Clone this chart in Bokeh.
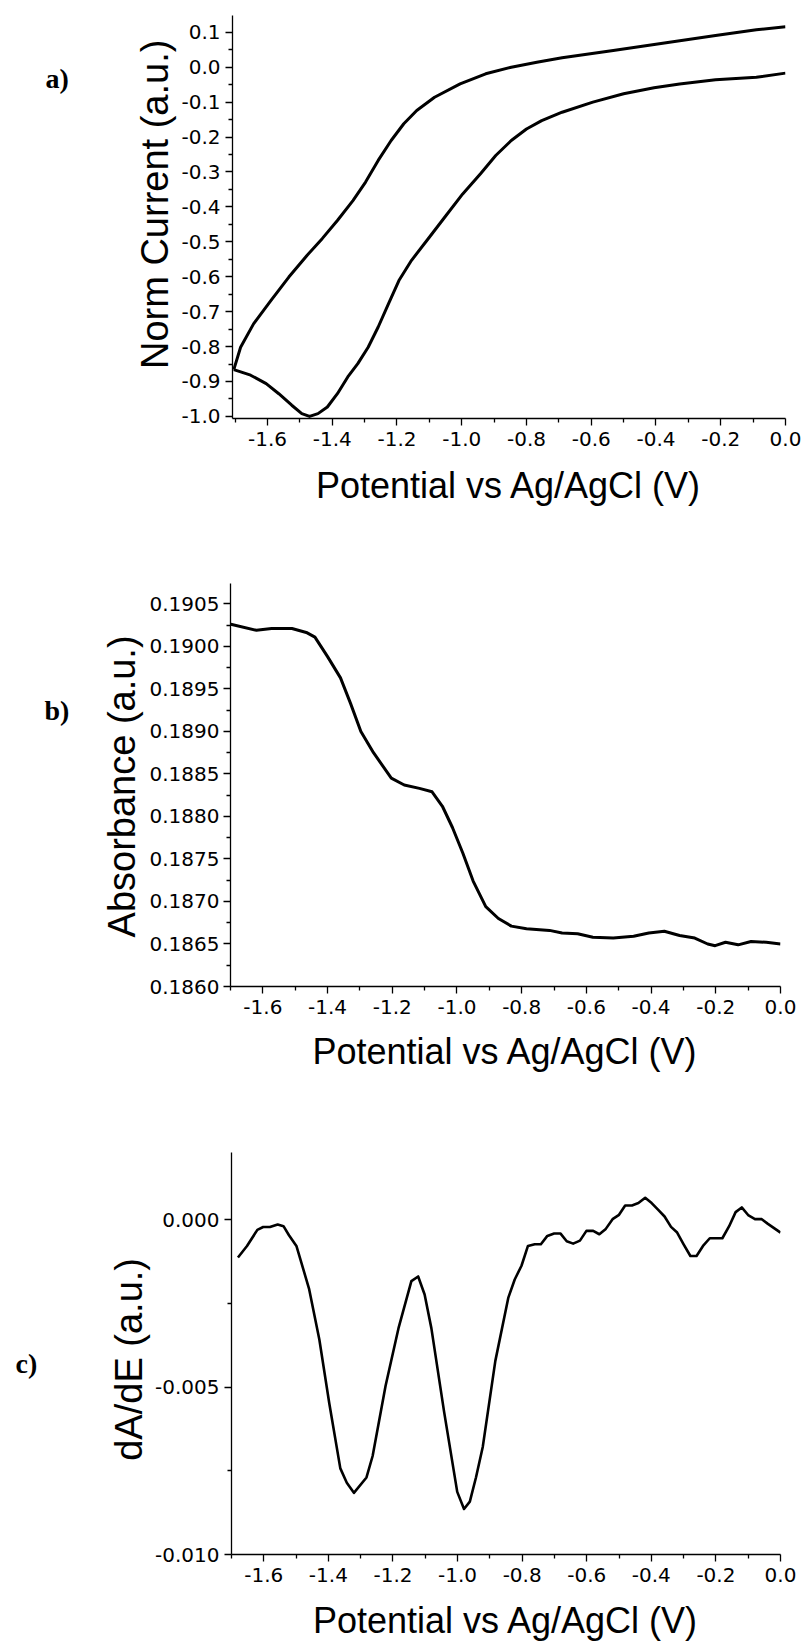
from math import pi
from bokeh.plotting import figure
from bokeh.layouts import column, row
from bokeh.models import FixedTicker, PrintfTickFormatter, Range1d
from bokeh.core.properties import value
from bokeh.embed import file_html
from bokeh.resources import INLINE

# ---------------- data ----------------
# a) cyclic voltammogram, upper branch (left -> right)
cv_up_v = [-1.704, -1.683, -1.643, -1.589, -1.534, -1.478, -1.431, -1.384, -1.336, -1.297,
           -1.258, -1.218, -1.179, -1.139, -1.084, -1.005, -0.926, -0.847, -0.768, -0.690,
           -0.532, -0.374, -0.216, -0.090, 0.0]
cv_up_i = [-0.866, -0.802, -0.735, -0.668, -0.601, -0.539, -0.491, -0.439, -0.382, -0.329,
           -0.267, -0.210, -0.162, -0.124, -0.086, -0.048, -0.019, 0.000, 0.014, 0.027,
           0.048, 0.069, 0.091, 0.107, 0.116]
# a) lower branch (right -> left)
cv_lo_v = [0.0, -0.090, -0.216, -0.327, -0.406, -0.500, -0.595, -0.690, -0.753, -0.800,
           -0.847, -0.895, -0.942, -0.997, -1.052, -1.100, -1.155, -1.194, -1.226, -1.258,
           -1.289, -1.321, -1.352, -1.384, -1.415, -1.444, -1.470, -1.494, -1.525, -1.565,
           -1.604, -1.652, -1.704]
cv_lo_i = [-0.017, -0.029, -0.036, -0.048, -0.059, -0.076, -0.100, -0.129, -0.153, -0.177,
           -0.210, -0.253, -0.305, -0.363, -0.429, -0.487, -0.553, -0.611, -0.677, -0.744,
           -0.802, -0.849, -0.887, -0.935, -0.973, -0.992, -1.000, -0.992, -0.968, -0.935,
           -0.906, -0.882, -0.866]

# b) absorbance
abs_v = [-1.699, -1.620, -1.573, -1.510, -1.463, -1.439, -1.400, -1.360, -1.329, -1.297,
         -1.258, -1.203, -1.163, -1.116, -1.077, -1.045, -1.014, -0.982, -0.950, -0.911,
         -0.872, -0.832, -0.785, -0.714, -0.675, -0.627, -0.580, -0.517, -0.454, -0.407,
         -0.359, -0.312, -0.265, -0.225, -0.202, -0.170, -0.131, -0.091, -0.044, 0.0]
abs_a = [0.19026, 0.19019, 0.19021, 0.19021, 0.19016, 0.19011, 0.18988, 0.18963, 0.18933, 0.18900,
         0.18875, 0.18845, 0.18837, 0.18833, 0.18829, 0.18812, 0.18787, 0.18757, 0.18724, 0.18694,
         0.18680, 0.18671, 0.18668, 0.18666, 0.18663, 0.18662, 0.18658, 0.18657, 0.18659, 0.18663,
         0.18665, 0.18660, 0.18657, 0.18650, 0.18648, 0.18652, 0.18649, 0.18653, 0.18652, 0.18650]

# c) derivative dA/dE
der_v = [-1.680, -1.652, -1.620, -1.602, -1.581, -1.557, -1.539, -1.522, -1.499, -1.460,
         -1.428, -1.397, -1.363, -1.343, -1.321, -1.282, -1.263, -1.223, -1.182, -1.143,
         -1.122, -1.102, -1.081, -1.042, -1.001, -0.980, -0.962, -0.943, -0.922, -0.883,
         -0.843, -0.823, -0.802, -0.782, -0.761, -0.742, -0.722, -0.701, -0.681, -0.662,
         -0.642, -0.621, -0.601, -0.580, -0.561, -0.541, -0.520, -0.500, -0.481, -0.460,
         -0.440, -0.419, -0.399, -0.380, -0.359, -0.339, -0.320, -0.300, -0.279, -0.260,
         -0.240, -0.219, -0.199, -0.180, -0.159, -0.139, -0.120, -0.099, -0.079, -0.058,
         -0.039, 0.0]
der_d = [-0.001135, -0.000792, -0.00031, -0.000225, -0.000225, -0.00015, -0.0002, -0.00047, -0.00079, -0.00206,
         -0.00358, -0.0055, -0.00743, -0.00786, -0.00816, -0.0077, -0.00706, -0.00497, -0.00321, -0.00184,
         -0.0017, -0.00224, -0.00325, -0.00572, -0.00813, -0.00864, -0.00842, -0.0077, -0.00679, -0.00422,
         -0.00234, -0.00179, -0.00138, -0.00079, -0.00074, -0.00074, -0.00049, -0.00042, -0.00042, -0.00065,
         -0.00072, -0.00063, -0.00034, -0.00034, -0.00044, -0.00028, 0.00001, 0.00014, 0.00042, 0.00042,
         0.00049, 0.00065, 0.00049, 0.0003, 0.00009, -0.00022, -0.00039, -0.00074, -0.00109, -0.00109,
         -0.00079, -0.00056, -0.00056, -0.00056, -0.0002, 0.00022, 0.00036, 0.00012, 0.00001, 0.00001,
         -0.00013, -0.00039]

# ticks
x_major = [-1.6, -1.4, -1.2, -1.0, -0.8, -0.6, -0.4, -0.2, 0.0]
x_minor = [-1.7, -1.5, -1.3, -1.1, -0.9, -0.7, -0.5, -0.3, -0.1]
ya_major = [0.1, 0.0, -0.1, -0.2, -0.3, -0.4, -0.5, -0.6, -0.7, -0.8, -0.9, -1.0]
ya_minor = [0.05, -0.05, -0.15, -0.25, -0.35, -0.45, -0.55, -0.65, -0.75, -0.85, -0.95]
yb_major = [0.1860, 0.1865, 0.1870, 0.1875, 0.1880, 0.1885, 0.1890, 0.1895, 0.1900, 0.1905]
yb_minor = [0.18625, 0.18675, 0.18725, 0.18775, 0.18825, 0.18875, 0.18925, 0.18975, 0.19025]
yc_major = [0.0, -0.005, -0.010]
yc_minor = [-0.0025, -0.0075]

panel_letters = ["a)", "b)", "c)"]
x_title = "Potential vs Ag/AgCl (V)"
y_titles = ["Norm Current (a.u.)", "Absorbance (a.u.)", "dA/dE (a.u.)"]

TICK_FONT = "DejaVu Sans"
TITLE_FONT = "Liberation Sans"
TOTAL_W = 801


def make_fig(strip_w, height, xr, yr, left, right, top, bottom, ymaj, ymin, yfmt,
             ystand, xstand, xtstand):
    p = figure(width=TOTAL_W - strip_w, height=height, output_backend="svg",
               toolbar_location=None,
               x_range=Range1d(*xr), y_range=Range1d(*yr),
               min_border_left=left - strip_w, min_border_right=right,
               min_border_top=top, min_border_bottom=bottom)
    p.outline_line_color = None
    p.grid.visible = False
    p.background_fill_color = "white"
    p.border_fill_color = "white"
    p.xaxis.ticker = FixedTicker(ticks=x_major, minor_ticks=x_minor)
    p.yaxis.ticker = FixedTicker(ticks=ymaj, minor_ticks=ymin)
    p.xaxis.formatter = PrintfTickFormatter(format="%.1f")
    p.yaxis.formatter = PrintfTickFormatter(format=yfmt)
    p.xaxis.axis_label = x_title
    for ax in (p.xaxis, p.yaxis):
        ax.axis_line_color = "black"
        ax.axis_line_width = 1.3
        ax.major_tick_line_color = "black"
        ax.minor_tick_line_color = "black"
        ax.major_tick_line_width = 1.3
        ax.minor_tick_line_width = 1.3
        ax.major_tick_out = 7
        ax.major_tick_in = 0
        ax.minor_tick_out = 4
        ax.minor_tick_in = 0
        ax.major_label_text_font = TICK_FONT
        ax.major_label_text_font_size = "20px"
        ax.major_label_text_color = "black"
        ax.axis_label_text_font = TITLE_FONT
        ax.axis_label_text_font_size = "36px"
        ax.axis_label_text_font_style = "normal"
        ax.axis_label_text_color = "black"
    p.yaxis.major_label_standoff = ystand
    p.xaxis.major_label_standoff = xstand
    p.xaxis.axis_label_standoff = xtstand
    return p


def side_strip(strip_w, height, letter, lx, ly, ytitle, tx, ty):
    # strip left of the plot: panel letter + vertical axis title (centred on tx, ty),
    # its pixel grid is its own data space
    s = figure(width=strip_w, height=height, output_backend="svg", toolbar_location=None,
               x_range=Range1d(0, strip_w), y_range=Range1d(0, height),
               x_axis_location=None, y_axis_location=None,
               min_border_left=0, min_border_right=0, min_border_top=0, min_border_bottom=0)
    s.outline_line_color = None
    s.grid.visible = False
    s.background_fill_color = "white"
    s.border_fill_color = "white"
    s.text(x=[lx], y=[ly], text=[letter], text_font=value("Liberation Serif"),
           text_font_style="bold", text_font_size="28px", text_color="black",
           text_align="left", text_baseline="alphabetic")
    s.text(x=[tx], y=[ty], text=[ytitle], angle=pi / 2,
           text_font=value(TITLE_FONT), text_font_size="38px", text_color="black",
           text_align="center", text_baseline="middle")
    return s


SW_A, SW_B, SW_C = 177, 145, 152

pa = make_fig(SW_A, 540, (-1.708, 0.0), (-1.006, 0.148), 232, 16, 15, 122,
              ya_major, ya_minor, "%.1f", 5, 6, 16)
pa.line(cv_up_v, cv_up_i, line_color="black", line_width=3, line_join="round")
pa.line(cv_lo_v, cv_lo_i, line_color="black", line_width=3, line_join="round")

pb = make_fig(SW_B, 560, (-1.7, 0.0), (0.186, 0.19074), 230, 21, 43, 114,
              yb_major, yb_minor, "%.4f", 4, 6, 14)
pb.line(abs_v, abs_a, line_color="black", line_width=3, line_join="round")

pc = make_fig(SW_C, 546, (-1.7, 0.0), (-0.010, 0.002), 230, 21, 52, 92,
              yc_major, yc_minor, "%.3f", 5, 6, 15)
pc.line(der_v, der_d, line_color="black", line_width=2.6, line_join="round")

layout = column(
    row(side_strip(SW_A, 540, panel_letters[0], 45, 455, y_titles[0], 154.5, 287), pa, spacing=0),
    row(side_strip(SW_B, 560, panel_letters[1], 44, 384, y_titles[1], 121.5, 278), pb, spacing=0),
    row(side_strip(SW_C, 546, panel_letters[2], 15, 259, y_titles[2], 128.5, 265), pc, spacing=0),
    spacing=0)
open("out.html", "w").write(file_html(layout, INLINE))
